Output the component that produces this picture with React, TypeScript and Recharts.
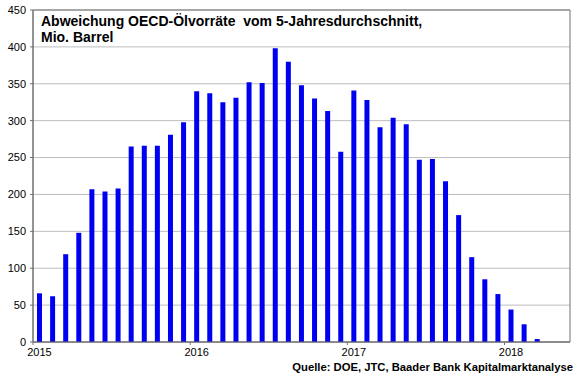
import React from "react";
import { BarChart, Bar, XAxis, YAxis, CartesianGrid, ReferenceArea } from "recharts";

const months: string[] = [
  "2015-01","2015-02","2015-03","2015-04","2015-05","2015-06","2015-07","2015-08","2015-09","2015-10","2015-11","2015-12",
  "2016-01","2016-02","2016-03","2016-04","2016-05","2016-06","2016-07","2016-08","2016-09","2016-10","2016-11","2016-12",
  "2017-01","2017-02","2017-03","2017-04","2017-05","2017-06","2017-07","2017-08","2017-09","2017-10","2017-11","2017-12",
  "2018-01","2018-02","2018-03",
];
const values: number[] = [
  66, 62, 119, 148, 207, 204, 208, 265, 266, 266, 281, 298,
  340, 337, 325, 331, 352, 351, 398, 380, 348, 330, 313, 258,
  341, 328, 291, 304, 295, 247, 248, 218,
  172, 115, 85, 65, 44, 24, 4,
];
const yearTicks: number[] = [0, 12, 24, 36];
const yearLabels: string[] = ["2015", "2016", "2017", "2018"];
const yTicks: number[] = [0, 50, 100, 150, 200, 250, 300, 350, 400, 450];

const data = months.map((m, i) => ({ month: m, x: i + 0.5, value: values[i] }));

const FONT = "'Liberation Sans', Arial, sans-serif";

const YearTick = (props: any) => {
  const { x, y, payload } = props;
  const idx = yearTicks.indexOf(payload.value);
  return (
    <text x={x + 6.5} y={y} dy={9} textAnchor="middle" fontSize={11} fontFamily={FONT} fill="#000">
      {yearLabels[idx]}
    </text>
  );
};

export default function App() {
  return (
    <div style={{ position: "absolute", left: 0, top: 0, width: 580, height: 375, background: "#fff" }}>
      <BarChart
        width={580}
        height={375}
        data={data}
        margin={{ top: 10, right: 10, left: 0, bottom: 13 }}
      >
        <CartesianGrid vertical={false} stroke="#bdbdbd" />
        <XAxis
          type="number"
          dataKey="x"
          domain={[0, 41]}
          ticks={yearTicks}
          tick={<YearTick />}
          tickSize={3}
          tickLine={{ stroke: "#707070" }}
          axisLine={{ stroke: "#707070" }}
          height={20}
          interval={0}
          allowDataOverflow
        />
        <YAxis
          domain={[0, 450]}
          ticks={yTicks}
          width={33}
          tickSize={3}
          tickMargin={4}
          tick={{ fontSize: 11, fontFamily: FONT, fill: "#000" }}
          tickLine={{ stroke: "#707070" }}
          axisLine={{ stroke: "#707070" }}
          interval={0}
        />
        <ReferenceArea x1={0} x2={41} y1={0} y2={450} fill="none" stroke="#707070" strokeWidth={1} />
        <Bar dataKey="value" fill="#0000f0" barSize={5} isAnimationActive={false} />
      </BarChart>
      <div
        style={{
          position: "absolute",
          left: 41,
          top: 13,
          fontFamily: FONT,
          fontWeight: "bold",
          fontSize: 14,
          lineHeight: "16px",
          color: "#000",
          whiteSpace: "pre",
        }}
      >
        {"Abweichung OECD-Ölvorräte  vom 5-Jahresdurchschnitt,\nMio. Barrel"}
      </div>
      <div
        style={{
          position: "absolute",
          right: 7,
          top: 360,
          fontFamily: FONT,
          fontWeight: "bold",
          fontSize: 11.25,
          lineHeight: "14px",
          color: "#000",
          whiteSpace: "nowrap",
        }}
      >
        Quelle: DOE, JTC, Baader Bank Kapitalmarktanalyse
      </div>
    </div>
  );
}
